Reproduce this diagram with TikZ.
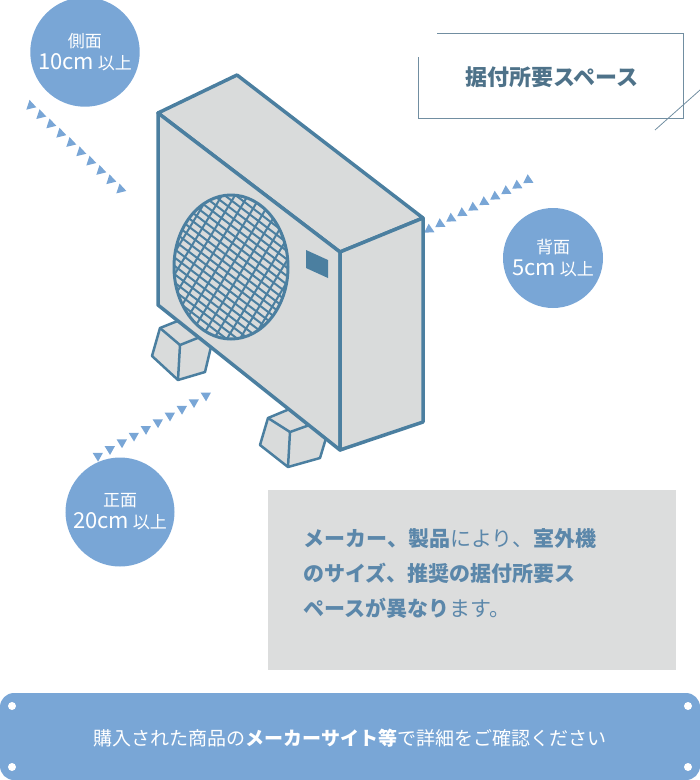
\documentclass[tikz,border=0pt]{standalone}
\usepackage{fontspec}
\setmainfont{Noto Sans CJK JP}
\usetikzlibrary{positioning}
\definecolor{steel}{HTML}{4B7FA0}
\definecolor{bodygray}{HTML}{D9DBDB}
\definecolor{skyblue}{HTML}{79A6D6}
\definecolor{notegray}{HTML}{DCDDDD}
\definecolor{notetext}{HTML}{5B87AA}
\definecolor{titletext}{HTML}{4E7289}
\tikzset{
  unitline/.style={draw=steel,line width=3.5pt,line join=round,fill=bodygray},
  badge/.style={circle,fill=skyblue,minimum size=100pt,text=white,align=center,font=\fontsize{17}{26}\selectfont},
  pip/.style={fill=skyblue},
}
\begin{document}
\begin{tikzpicture}[x=1pt,y=-1pt]
  \useasboundingbox (0,0) rectangle (700,780);
  % dotted arrows
  \foreach \sx/\sy/\ex/\ey in {120/190/20/97, 430/230/540/175, 205/395/85/462}{
    \pgfmathsetmacro{\ang}{atan2(\ey-\sy,\ex-\sx)}
    \foreach \t in {0,0.1,...,1.0}{
      \fill[pip,shift={({\sx+\t*(\ex-\sx)},{\sy+\t*(\ey-\sy)})},rotate=\ang]
        (5,0) -- (-4,5) -- (-4,-5) -- cycle;
    }
  }
  % feet
  \draw[unitline,line width=2.5pt] (160,328) -- (185,318) -- (215,330) -- (205,372) -- (178,380) -- (152,356) -- cycle;
  \draw[unitline,line width=2.5pt] (160,328) -- (180,345) -- (205,335);
  \draw[unitline,line width=2.5pt] (180,345) -- (178,380);
  \draw[unitline,line width=2.5pt] (268,418) -- (292,408) -- (330,425) -- (320,458) -- (288,467) -- (260,445) -- cycle;
  \draw[unitline,line width=2.5pt] (268,418) -- (290,432) -- (318,422);
  \draw[unitline,line width=2.5pt] (290,432) -- (288,467);
  % body
  \coordinate (fl) at (158,113); \coordinate (bl) at (237,75);
  \coordinate (br) at (423,218); \coordinate (fr) at (340,252);
  \coordinate (flb) at (158,305); \coordinate (frb) at (340,450);
  \coordinate (brb) at (423,422);
  \draw[unitline] (fl) -- (bl) -- (br) -- (fr) -- cycle;
  \draw[unitline] (fl) -- (fr) -- (frb) -- (flb) -- cycle;
  \draw[unitline] (fr) -- (br) -- (brb) -- (frb) -- cycle;
  % fan grille
  \begin{scope}
    \clip (231,267) ellipse (57 and 72);
    \foreach \k in {-12,...,12}{
      \draw[steel,line width=2pt] ({231+\k*11-100},{267-76}) -- ({231+\k*11+100},{267+76});
      \draw[steel,line width=2pt] ({231+\k*13-60},{267+100}) -- ({231+\k*13+60},{267-100});
    }
  \end{scope}
  \draw[steel,line width=3pt] (231,267) ellipse (57 and 72);
  \fill[steel] (306,250) -- (328,260) -- (328,278) -- (306,268) -- cycle;
  % badges
  \node[badge] (side) at (85,52) {側面\\[-4pt]{\fontsize{22}{26}\selectfont 10cm} 以上};
  \node[badge] (back) at (553,258) {背面\\[-4pt]{\fontsize{22}{26}\selectfont 5cm} 以上};
  \node[badge] (front) at (120,512) {正面\\[-4pt]{\fontsize{22}{26}\selectfont 20cm} 以上};
  % title
  \draw[titletext!80,line width=1pt] (437,33) -- (683,33) -- (683,118) -- (418,118) -- (418,57);
  \draw[titletext!80,line width=0.8pt] (655,130) -- (700,90);
  \node[text=titletext,font=\fontsize{22}{26}\selectfont\bfseries] (title) at (552,77) {据付所要スペース};
  % note
  \fill[notegray] (268,490) rectangle (676,670);
  \node[text=notetext,anchor=north west,align=left,font=\fontsize{21}{35}\selectfont] (note) at (300,525)
    {\textbf{メーカー、製品}により、\textbf{室外機}\\\textbf{のサイズ、推奨の据付所要ス}\\\textbf{ペースが異なり}ます。};
  % bottom bar
  \fill[skyblue] (0,693) [rounded corners=14pt] rectangle (700,780);
  \foreach \px/\py in {12/706,688/706,12/767,688/767}
    \fill[white] (\px,\py) circle (4);
  \node[text=white,font=\fontsize{19}{24}\selectfont] (bar) at (350,738)
    {購入された商品の\textbf{メーカーサイト等}で詳細をご確認ください};
\end{tikzpicture}
\end{document}
